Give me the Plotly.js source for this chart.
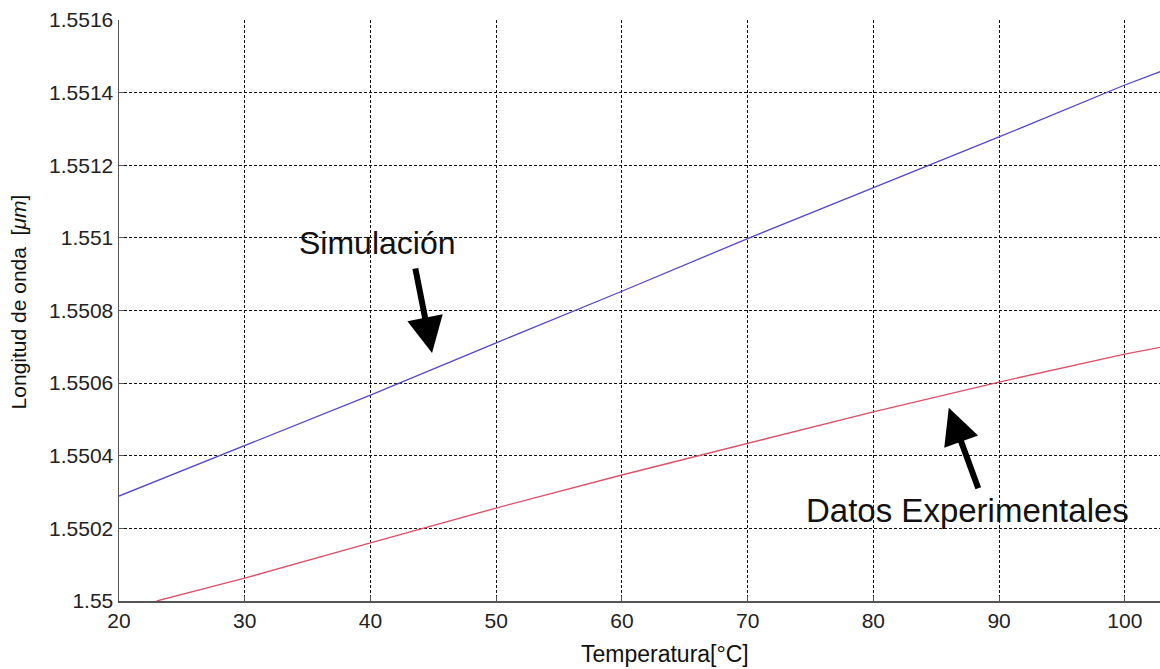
<!DOCTYPE html>
<html>
<head>
<meta charset="utf-8">
<script src="https://cdn.plot.ly/plotly-3.0.1.min.js"></script>
<style>
html,body{margin:0;padding:0;background:#fff;overflow:hidden;}
#chart{width:1160px;height:669px;}
</style>
</head>
<body>
<div id="chart"></div>
<script>
// Temperature (°C) and wavelength (µm)
var simTemp = [20, 30, 40, 50, 60, 70, 80, 90, 100, 103];
var simWave = [1.550289, 1.550427, 1.550567, 1.550711, 1.550853, 1.550998, 1.551137, 1.551278, 1.551421, 1.55146];

var expTemp = [23, 30, 40, 50, 60, 70, 80, 90, 100, 103];
var expWave = [1.55, 1.550063, 1.55016, 1.550256, 1.550347, 1.550435, 1.550521, 1.550603, 1.55068, 1.5507];

var xTickVals = [20, 30, 40, 50, 60, 70, 80, 90, 100];
var yTickVals = [1.55, 1.5502, 1.5504, 1.5506, 1.5508, 1.551, 1.5512, 1.5514, 1.5516];
var yTickText = ["1.55", "1.5502", "1.5504", "1.5506", "1.5508", "1.551", "1.5512", "1.5514", "1.5516"];

var labelSim = "Simulación";
var labelExp = "Datos Experimentales";
var xTitle = "Temperatura[°C]";
var yTitle = "Longitud de onda  [<i>μm</i>]";

var FONT = "Liberation Sans, Arial, sans-serif";

var traces = [
  {x: simTemp, y: simWave, type: "scatter", mode: "lines", name: labelSim,
   line: {color: "#5548c8", width: 1.3}},
  {x: expTemp, y: expWave, type: "scatter", mode: "lines", name: labelExp,
   line: {color: "#dc5068", width: 1.3}}
];

var layout = {
  width: 1160, height: 669,
  margin: {l: 119, r: 0, t: 20, b: 68},
  paper_bgcolor: "#fff", plot_bgcolor: "#fff",
  showlegend: false,
  font: {family: FONT, color: "#222"},
  xaxis: {
    range: [20, 102.8], tickvals: xTickVals,
    showgrid: true, gridcolor: "#111", griddash: "3px,2px", gridwidth: 1,
    zeroline: false, showline: true, linecolor: "#555", linewidth: 1.5,
    ticks: "inside", ticklen: 5, tickcolor: "#555",
    tickfont: {size: 21, family: FONT, color: "#222"}
  },
  yaxis: {
    range: [1.55, 1.5516], tickvals: yTickVals, ticktext: yTickText,
    showgrid: true, gridcolor: "#111", griddash: "3px,2px", gridwidth: 1,
    zeroline: false, showline: true, linecolor: "#555", linewidth: 1.5,
    ticks: "inside", ticklen: 5, tickcolor: "#555",
    tickfont: {size: 21, family: FONT, color: "#222"}
  },
  annotations: [
    {text: xTitle, xref: "paper", yref: "paper", x: 0.5245, y: -0.092,
     xanchor: "center", yanchor: "middle", showarrow: false,
     font: {size: 23, family: FONT, color: "#111"}},
    {text: yTitle, xref: "paper", yref: "paper", x: -0.097, y: 0.514,
     xanchor: "center", yanchor: "middle", textangle: -90, showarrow: false,
     font: {size: 21, family: FONT, color: "#111"}},
    {text: labelSim, xref: "x", yref: "y", x: 40.6, y: 1.550986,
     xanchor: "center", yanchor: "middle", showarrow: false,
     font: {size: 32, family: FONT, color: "#111"}},
    {text: labelExp, xref: "x", yref: "y", x: 87.5, y: 1.550248,
     xanchor: "center", yanchor: "middle", showarrow: false,
     font: {size: 33, family: FONT, color: "#111"}},
    {text: "", xref: "x", yref: "y", x: 44.9, y: 1.550683,
     showarrow: true, ax: -17, ay: -86, arrowhead: 2, arrowsize: 1.2,
     arrowwidth: 6, arrowcolor: "#000", standoff: 0},
    {text: "", xref: "x", yref: "y", x: 86.0, y: 1.550532,
     showarrow: true, ax: 30, ay: 82, arrowhead: 2, arrowsize: 1.2,
     arrowwidth: 6, arrowcolor: "#000", standoff: 0}
  ]
};

Plotly.newPlot("chart", traces, layout, {displayModeBar: false, staticPlot: true});
</script>
</body>
</html>
